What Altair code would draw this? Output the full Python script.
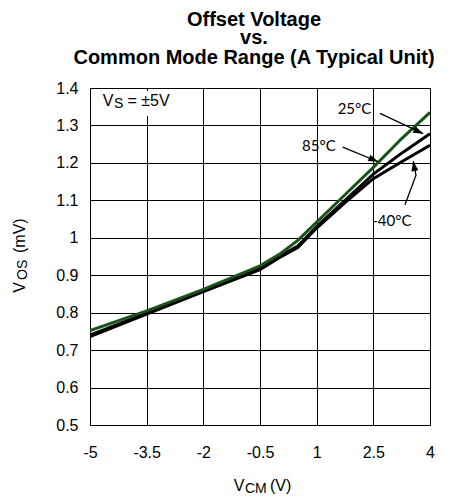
import altair as alt
import pandas as pd

# ---- data ----
vcm = [-5, -3.5, -2, -0.5, 0, 0.5, 1, 1.75, 2.5, 3.25, 4]
vos_85 = [0.752, 0.805, 0.862, 0.925, 0.955, 0.993, 1.042, 1.115, 1.188, 1.265, 1.335]
vos_25 = [0.740, 0.799, 0.858, 0.918, 0.950, 0.978, 1.030, 1.100, 1.170, 1.226, 1.278]
vos_m40 = [0.736, 0.796, 0.856, 0.915, 0.946, 0.974, 1.026, 1.094, 1.158, 1.203, 1.247]

x_ticks = [-5, -3.5, -2, -0.5, 1, 2.5, 4]
y_ticks = [0.5, 0.6, 0.7, 0.8, 0.9, 1, 1.1, 1.2, 1.3, 1.4]

label_text = ["25°C", "85°C", "-40°C"]
label_x = [2.0, 1.06, 2.99]
label_y = [1.345, 1.245, 1.045]

# arrow polylines (label -> curve)
arrow_id = ["a25", "a25", "a85", "a85", "a40", "a40", "a40"]
arrow_ord = [0, 1, 0, 1, 0, 1, 2]
arrow_x = [2.676, 3.82, 1.689, 2.631, 3.338, 3.629, 3.557]
arrow_y = [1.332, 1.278, 1.242, 1.203, 1.088, 1.167, 1.205]

head_x = [3.82, 2.631, 3.557]
head_y = [1.278, 1.203, 1.205]
head_angle = [114.5, 112.8, 351]

GREEN = "#19531b"
ARIAL = "Liberation Sans"

black_df = pd.DataFrame({
    "vcm": vcm * 2,
    "vos": vos_25 + vos_m40,
    "series": ["25°C"] * len(vcm) + ["-40°C"] * len(vcm),
})
green_df = pd.DataFrame({"vcm": vcm, "vos": vos_85, "series": ["85°C"] * len(vcm)})
lab_df = pd.DataFrame({"t": label_text, "x": label_x, "y": label_y})
arr_df = pd.DataFrame({"id": arrow_id, "o": arrow_ord, "x": arrow_x, "y": arrow_y})
head_df = pd.DataFrame({"x": head_x, "y": head_y, "a": head_angle})
one = pd.DataFrame({"a": [0]})

xs = alt.Scale(domain=[-5, 4], nice=False, zero=False)
ys = alt.Scale(domain=[0.5, 1.4], nice=False, zero=False)

x_axis = alt.Axis(values=x_ticks, tickCount=30, title=None, grid=True, ticks=False, domain=False,
                  labelExpr="datum.value + ''", labelPadding=19, labelFont=ARIAL,
                  labelFontSize=16, labelColor="#000", labelFlush=False,
                  labelOverlap=False,
                  gridColor="#000", gridOpacity=1, gridWidth=1)
y_axis = alt.Axis(values=y_ticks, tickCount=30, title=None, grid=True, ticks=False, domain=False,
                  labelExpr="datum.value + ''", labelPadding=12, labelFont=ARIAL,
                  labelFontSize=16, labelColor="#000", labelFlush=False,
                  labelOverlap=False,
                  gridColor="#000", gridOpacity=1, gridWidth=1)

base_black = alt.Chart(black_df).mark_line(color="#000", strokeWidth=3, clip=True).encode(
    x=alt.X("vcm:Q", scale=xs, axis=x_axis),
    y=alt.Y("vos:Q", scale=ys, axis=y_axis),
    detail="series:N",
)
green = alt.Chart(green_df).mark_line(color=GREEN, strokeWidth=3, clip=True).encode(
    x=alt.X("vcm:Q", scale=xs, axis=x_axis), y=alt.Y("vos:Q", scale=ys, axis=y_axis)
)

vs_box = alt.Chart(one).mark_rect(fill="white").encode(
    x=alt.value(8), x2=alt.value(92), y=alt.value(3), y2=alt.value(28)
)

arrows = alt.Chart(arr_df).mark_line(color="#000", strokeWidth=1.3).encode(
    x=alt.X("x:Q", scale=xs, axis=x_axis), y=alt.Y("y:Q", scale=ys, axis=y_axis),
    detail="id:N", order="o:Q"
)
heads = alt.Chart(head_df).mark_point(
    shape="M0,0L0.7,2L-0.7,2Z", filled=True, color="#000", opacity=1, size=100
).encode(
    x=alt.X("x:Q", scale=xs, axis=x_axis), y=alt.Y("y:Q", scale=ys, axis=y_axis),
    angle=alt.Angle("a:Q", scale=None),
)
labels = alt.Chart(lab_df).mark_text(font="Lato", fontSize=15, color="#000",
                                     align="center", baseline="middle").encode(
    x=alt.X("x:Q", scale=xs, axis=x_axis), y=alt.Y("y:Q", scale=ys, axis=y_axis),
    text="t:N"
)


def txt(s, x, y, size=16, bold=False, align="left", angle=0):
    kw = dict(text=s, x=x, y=y, font=ARIAL, fontSize=size, color="#000",
              align=align, baseline="alphabetic",
              fontWeight="bold" if bold else "normal")
    if angle:
        kw["angle"] = angle
    return alt.Chart(one).mark_text(**kw)


texts = [
    # title
    txt("Offset Voltage", 164, -62, 20, True, "center"),
    txt("vs.", 164, -44, 20, True, "center"),
    txt("Common Mode Range (A Typical Unit)", 164, -24, 20, True, "center"),
    # Vs annotation
    txt("V", 12.7, 18.3, 16),
    txt("S", 24, 19.6, 14),
    txt("= ±5V", 37.5, 18.3, 16),
    # x title
    txt("V", 154.5, 403, 16, align="right"),
    txt("CM", 155, 404.5, 14),
    txt("(V)", 180, 403, 16),
    # y title
    txt("V", -65, 194, 16, align="right", angle=270),
    txt("OS", -63.5, 192, 14, angle=270),
    txt("(mV)", -65, 165, 16, angle=270),
]

chart = alt.layer(
    vs_box, base_black, green, arrows, heads, labels, *texts
).properties(
    width=340, height=337,
    autosize=alt.AutoSizeParams(type="none"),
    padding={"left": 82, "top": 80, "right": 12, "bottom": 70},
).configure_view(
    stroke="#000", strokeWidth=2
).configure(background="white")

chart.save("out.html", embed_options={"renderer": "svg", "actions": False})
